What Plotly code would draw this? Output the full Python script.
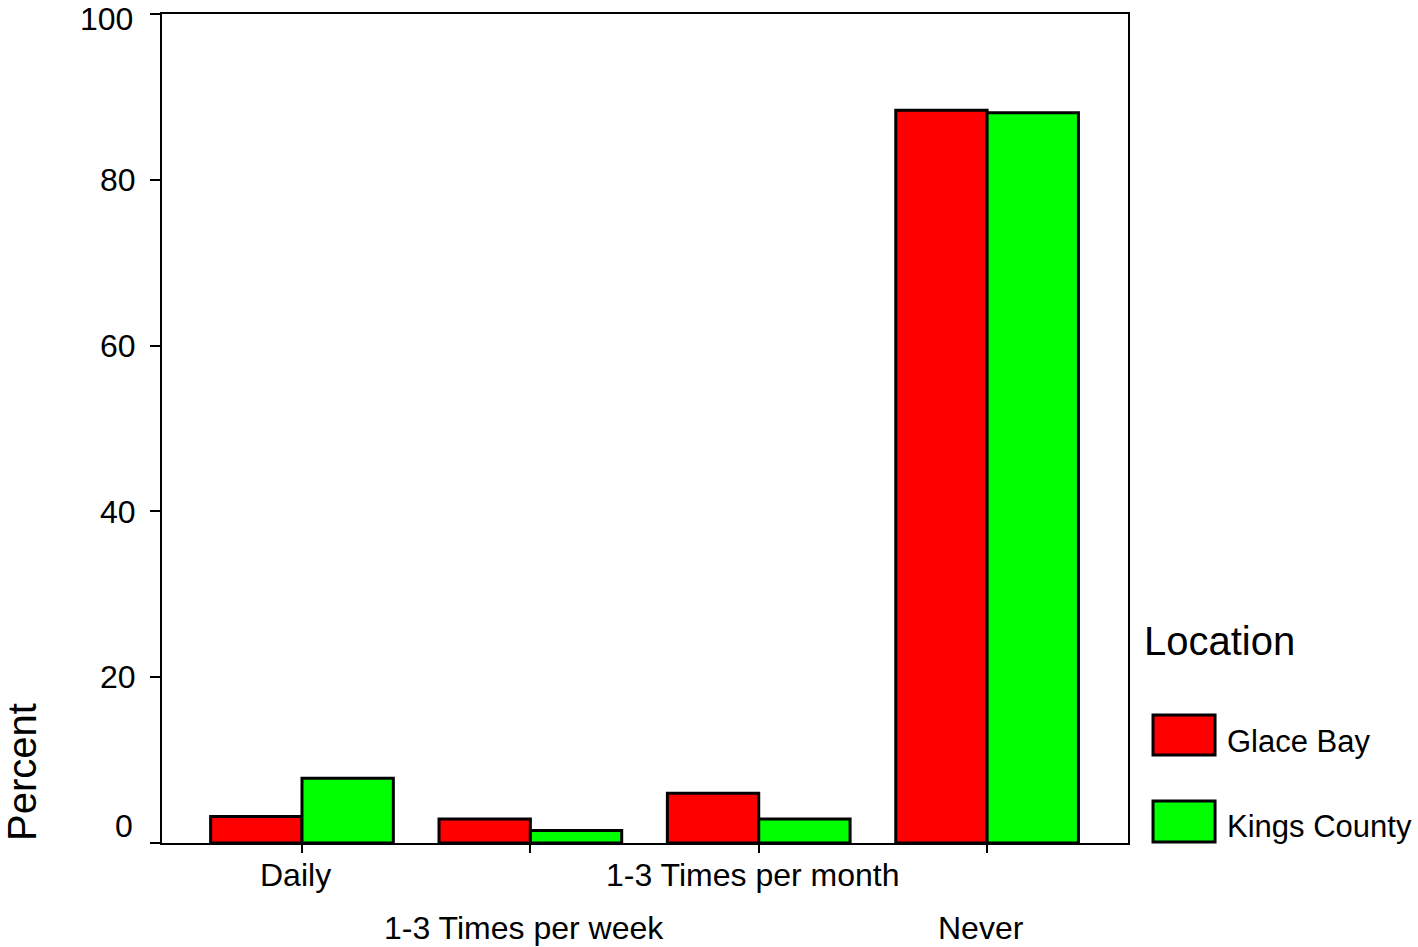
import plotly.graph_objects as go

categories = ["Daily", "1-3 Times per week", "1-3 Times per month", "Never"]
series_names = ["Glace Bay", "Kings County"]
glace_bay = [3.2, 2.9, 6.0, 88.4]
kings_county = [7.8, 1.5, 2.9, 88.1]
colors = ["#FF0000", "#00FF00"]
y_ticks = [0, 20, 40, 60, 80, 100]
legend_title = "Location"
y_title = "Percent"

FONT = "Liberation Sans, Arial, sans-serif"

fig = go.Figure()
for name, vals, col in zip(series_names, [glace_bay, kings_county], colors):
    fig.add_trace(go.Bar(
        x=categories, y=vals, name=name,
        marker=dict(color=col, line=dict(color="black", width=3)),
        showlegend=False,
    ))

fig.update_layout(
    width=1418, height=947,
    margin=dict(l=162, r=290, t=14, b=104),
    paper_bgcolor="white", plot_bgcolor="white",
    barmode="group", bargap=0.2, bargroupgap=0,
    font=dict(family=FONT, size=32, color="black"),
)
fig.update_xaxes(
    type="category", range=[-0.613, 3.617], automargin=False,
    showline=True, linecolor="black", linewidth=2, mirror=True,
    ticks="outside", ticklen=8, tickwidth=2, tickcolor="black",
    showticklabels=False, showgrid=False, zeroline=False,
)
# end labels (0 and 100) are drawn as nudged annotations like the original
edge_ticks = (y_ticks[0], y_ticks[-1])
fig.update_yaxes(
    range=[0, 100], tickvals=y_ticks, automargin=False,
    ticktext=["" if v in edge_ticks else str(v) for v in y_ticks],
    showline=True, linecolor="black", linewidth=2, mirror=True,
    ticks="outside", ticklen=10, tickwidth=2, tickcolor="black",
    ticklabelstandoff=8, ticklabeloverflow="allow",
    showgrid=False, zeroline=False,
    tickfont=dict(family=FONT, size=32, color="black"),
)

for val, py in zip(edge_ticks, (0.0205, 0.994)):
    fig.add_annotation(text=str(val), xref="paper", yref="paper",
                       x=-0.028, y=py, xanchor="right", yanchor="middle",
                       showarrow=False, font=dict(size=32))

# staggered category labels
for i, cat in enumerate(categories):
    row_y = -0.0386 if i % 2 == 0 else -0.1025
    fig.add_annotation(text=cat, xref="x", yref="paper", x=cat, y=row_y,
                       xanchor="center", yanchor="middle", xshift=-6,
                       showarrow=False, font=dict(size=32))

# y axis title at bottom
fig.add_annotation(text=y_title, xref="paper", yref="paper",
                   x=-0.145, y=0.0, xanchor="center", yanchor="bottom",
                   textangle=-90, showarrow=False, font=dict(size=40))

# custom legend
fig.add_annotation(text=legend_title, xref="paper", yref="paper",
                   x=1.0145, y=0.2437, xanchor="left", yanchor="middle",
                   showarrow=False, font=dict(size=40))
swatch_y = [(0.1062, 0.1544), (0.0012, 0.0507)]
text_y = [0.123, 0.0205]
for name, col, (y0, y1), ty in zip(series_names, colors, swatch_y, text_y):
    fig.add_shape(type="rect", xref="paper", yref="paper",
                  x0=1.0259, x1=1.0901, y0=y0, y1=y1,
                  fillcolor=col, line=dict(color="black", width=3))
    fig.add_annotation(text=name, xref="paper", yref="paper",
                       x=1.1004, y=ty, xanchor="left", yanchor="middle",
                       showarrow=False, font=dict(size=31))

fig.write_html("out.html", config={"displayModeBar": False},
               post_script="document.body.style.margin='0';document.body.style.overflow='hidden';")
